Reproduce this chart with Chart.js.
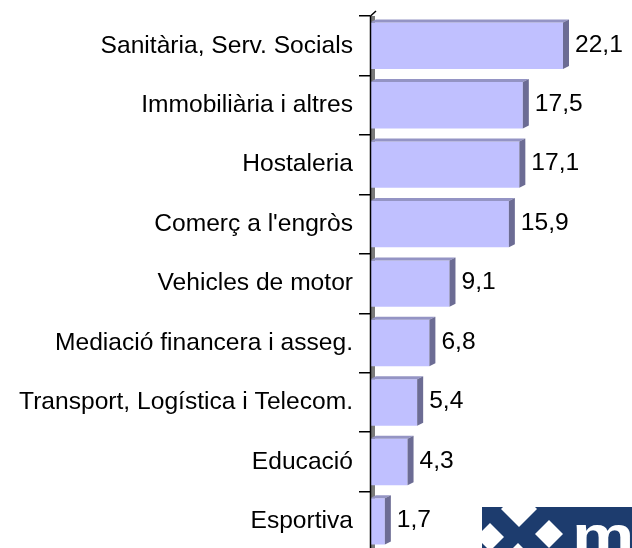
<!DOCTYPE html>
<html>
<head>
<meta charset="utf-8">
<script src="https://cdn.jsdelivr.net/npm/chart.js@4/dist/chart.umd.min.js"></script>
<style>
    html, body { margin: 0; padding: 0; background: #fff; overflow: hidden; }
    #chart { display: block; }
</style>
</head>
<body>
<canvas id="chart" width="632" height="567"></canvas>
<script>
// Data
const categories = [
    'Sanitària, Serv. Socials',
    'Immobiliària i altres',
    'Hostaleria',
    "Comerç a l'engròs",
    'Vehicles de motor',
    'Mediació financera i asseg.',
    'Transport, Logística i Telecom.',
    'Educació',
    'Esportiva'
];
const values = [22.1, 17.5, 17.1, 15.9, 9.1, 6.8, 5.4, 4.3, 1.7];

const FONT = '"Liberation Sans", Arial, sans-serif';
const DEPTH_X = 6;
const DEPTH_Y = -3;

/**
 * Draws the grey wall strip next to the axis (pseudo 3D).
 */
const wallPlugin = {
    id: 'wall',
    beforeDatasetsDraw(chart) {
        const { ctx, chartArea } = chart;
        ctx.save();
        ctx.fillStyle = '#7a7a7a';
        ctx.fillRect(chartArea.left + 1, chartArea.top, 4, chartArea.bottom - chartArea.top);
        ctx.restore();
    }
};

/**
 * Adds top and side faces to each bar, the axis line and the value labels.
 */
const bar3dPlugin = {
    id: 'bar3d',
    afterDatasetsDraw(chart) {
        const { ctx, chartArea } = chart;
        const meta = chart.getDatasetMeta(0);
        ctx.save();
        meta.data.forEach((bar, i) => {
            const top = bar.y - bar.height / 2;
            const bottom = bar.y + bar.height / 2;
            // top face
            ctx.fillStyle = '#9494c4';
            ctx.beginPath();
            ctx.moveTo(bar.base, top);
            ctx.lineTo(bar.x, top);
            ctx.lineTo(bar.x + DEPTH_X, top + DEPTH_Y);
            ctx.lineTo(bar.base + DEPTH_X, top + DEPTH_Y);
            ctx.closePath();
            ctx.fill();
            // side face
            ctx.fillStyle = '#6c6c94';
            ctx.beginPath();
            ctx.moveTo(bar.x, top);
            ctx.lineTo(bar.x + DEPTH_X, top + DEPTH_Y);
            ctx.lineTo(bar.x + DEPTH_X, bottom + DEPTH_Y);
            ctx.lineTo(bar.x, bottom);
            ctx.closePath();
            ctx.fill();
            // value label
            ctx.fillStyle = '#000';
            ctx.font = '24.6px ' + FONT;
            ctx.textAlign = 'left';
            ctx.textBaseline = 'middle';
            ctx.fillText(values[i].toFixed(1).replace('.', ','), bar.x + 12, bar.y - 1);
        });
        // axis line with its slanted top
        ctx.strokeStyle = '#000';
        ctx.lineWidth = 1.5;
        ctx.beginPath();
        ctx.moveTo(chartArea.left + 0.5, chartArea.bottom);
        ctx.lineTo(chartArea.left + 0.5, chartArea.top);
        ctx.lineTo(chartArea.left + 6, chartArea.top - 5);
        ctx.stroke();
        ctx.restore();
    }
};

/**
 * Draws the logo block in the bottom right corner.
 */
const logoPlugin = {
    id: 'logo',
    afterDraw(chart) {
        const { ctx } = chart;
        ctx.save();
        ctx.fillStyle = '#1d3c6e';
        ctx.fillRect(482, 507, 150, 60);
        ctx.fillStyle = '#fff';
        const diamonds = [[519, 509, 18], [490, 537, 14], [549, 534, 14], [518, 557, 14]];
        diamonds.forEach(([cx, cy, r]) => {
            ctx.beginPath();
            ctx.moveTo(cx, cy - r);
            ctx.lineTo(cx + r, cy);
            ctx.lineTo(cx, cy + r);
            ctx.lineTo(cx - r, cy);
            ctx.closePath();
            ctx.fill();
        });
        // wide lowercase m, cut by the right edge
        ctx.font = 'bold 50px ' + FONT;
        ctx.textBaseline = 'alphabetic';
        ctx.translate(572, 552);
        ctx.scale(1.4, 1);
        ctx.fillText('m', 0, 0);
        ctx.restore();
    }
};

new Chart(document.getElementById('chart'), {
    type: 'bar',
    data: {
        labels: categories,
        datasets: [{
            data: values,
            backgroundColor: '#c0c0ff',
            borderWidth: 0,
            categoryPercentage: 1,
            barPercentage: 0.78
        }]
    },
    options: {
        indexAxis: 'y',
        responsive: false,
        animation: false,
        layout: {
            padding: { top: 16, right: 0, bottom: 0, left: 0 }
        },
        plugins: {
            legend: { display: false },
            tooltip: { enabled: false }
        },
        scales: {
            x: {
                display: false,
                min: 0,
                max: 30
            },
            y: {
                afterFit(scale) {
                    scale.width = 370;
                },
                grid: {
                    display: true,
                    drawOnChartArea: false,
                    drawTicks: true,
                    tickLength: 11,
                    color: '#000',
                    lineWidth: 1.5
                },
                border: {
                    display: false
                },
                ticks: {
                    color: '#000',
                    padding: 6,
                    font: { family: FONT, size: 24.6, lineHeight: 0.8 }
                }
            }
        }
    },
    plugins: [wallPlugin, bar3dPlugin, logoPlugin]
});
</script>
</body>
</html>
